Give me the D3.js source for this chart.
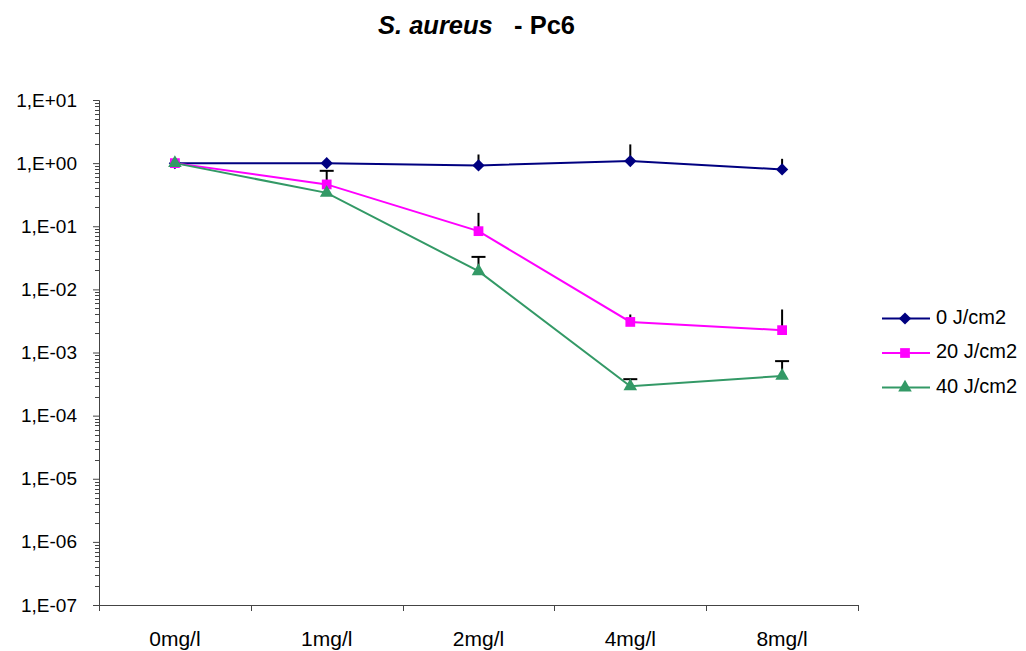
<!DOCTYPE html>
<meta charset="utf-8">
<head>
    <script src="https://d3js.org/d3.v7.min.js"></script>
    <style>
    body { margin: 0; background: #fff; }
    text { font-family: "Liberation Sans", Arial, sans-serif; }
    </style>
</head>
<body>
    <script>
    // categories and tick labels
    var doses = ["0mg/l", "1mg/l", "2mg/l", "4mg/l", "8mg/l"];
    var yTicks = [1e1, 1e0, 1e-1, 1e-2, 1e-3, 1e-4, 1e-5, 1e-6, 1e-7];
    var seriesNames = ["0 J/cm2", "20 J/cm2", "40 J/cm2"];

    // values
    var light0 = [1.0, 1.0, 0.92, 1.076, 0.795];
    var light20 = [1.0, 0.46, 0.0836, 0.00305, 0.00226];
    var light40 = [1.0, 0.338, 0.0194, 0.000292, 0.000426];

    // upper end of the error bars (null = none drawn)
    var err0 = [null, null, 1.37, 1.98, 1.17];
    var err20 = [null, 0.755, 0.163, 0.0040, 0.0048];
    var err40 = [null, null, 0.0327, 0.000378, 0.00073];

    // which error bars show a cap
    var cap0 = [false, false, false, false, false];
    var cap20 = [false, true, false, false, false];
    var cap40 = [false, false, true, true, true];

    var colors = ["#000080", "#ff00ff", "#339966"];
    // diamond = square turned 45 degrees
    var shapes = [d3.symbolSquare, d3.symbolSquare, d3.symbolTriangle];
    var turns = [45, 0, 0];
    var sizes = [75, 95, 80];

    var series = [
        { name: seriesNames[0], values: light0, err: err0, cap: cap0 },
        { name: seriesNames[1], values: light20, err: err20, cap: cap20 },
        { name: seriesNames[2], values: light40, err: err40, cap: cap40 }
    ];

    var W = 1026, H = 651;
    var plot = { left: 99, right: 858, top: 100, bottom: 605 };

    var svg = d3.select("body").append("svg")
        .attr("width", W)
        .attr("height", H);

    var x = d3.scaleBand()
        .domain(doses)
        .range([plot.left, plot.right]);
    var y = d3.scaleLog()
        .domain([1e-7, 1e1])
        .range([plot.bottom, plot.top]);

    // title
    var title = svg.append("text")
        .attr("x", 378)
        .attr("y", 34)
        .style("font-size", "25.5px")
        .style("font-weight", "bold");
    title.append("tspan").style("font-style", "italic").text("S. aureus");
    title.append("tspan").attr("xml:space", "preserve").text("   - Pc6");

    // minor log ticks
    var minor = [];
    for (var e = -7; e < 1; e++) {
        for (var m = 2; m <= 9; m++) minor.push(m * Math.pow(10, e));
    }
    svg.append("g").selectAll("line")
        .data(minor)
        .enter().append("line")
        .attr("x1", plot.left - 4)
        .attr("x2", plot.left)
        .attr("y1", function(d) { return Math.round(y(d)) + 0.5; })
        .attr("y2", function(d) { return Math.round(y(d)) + 0.5; })
        .attr("stroke", "#444")
        .attr("stroke-width", 1);

    // y axis
    var yAxis = d3.axisLeft(y)
        .tickValues(yTicks)
        .tickSize(6)
        .tickPadding(16)
        .tickFormat(function(d) {
            var exp = Math.round(Math.log10(d));
            var s = Math.abs(exp) < 10 ? "0" + Math.abs(exp) : "" + Math.abs(exp);
            return "1,E" + (exp < 0 ? "-" : "+") + s;
        });
    var gy = svg.append("g")
        .attr("transform", "translate(" + plot.left + ",0)")
        .call(yAxis);
    gy.select(".domain").attr("stroke", "#444");
    gy.selectAll(".tick line").attr("stroke", "#444");
    gy.selectAll("text")
        .style("font-size", "19px")
        .attr("fill", "#000");

    // x axis
    var xAxis = d3.axisBottom(x).tickSize(0).tickPadding(26);
    var gx = svg.append("g")
        .attr("transform", "translate(0," + plot.bottom + ")")
        .call(xAxis);
    gx.select(".domain").attr("stroke", "#444");
    gx.selectAll("text")
        .style("font-size", "21px")
        .attr("fill", "#000");
    // category separator ticks
    var edges = doses.map(function(d) { return x(d); }).concat([plot.right]);
    gx.selectAll(".sep")
        .data(edges)
        .enter().append("line")
        .attr("class", "sep")
        .attr("x1", function(d) { return Math.round(d) + 0.5; })
        .attr("x2", function(d) { return Math.round(d) + 0.5; })
        .attr("y1", 0)
        .attr("y2", 6)
        .attr("stroke", "#444");

    var cx = function(i) { return x(doses[i]) + x.bandwidth() / 2; };

    var line = d3.line()
        .x(function(d, i) { return cx(i); })
        .y(function(d) { return y(d); });

    // error bars
    series.forEach(function(s) {
        var g = svg.append("g");
        s.values.forEach(function(v, i) {
            if (s.err[i] == null) return;
            g.append("line")
                .attr("x1", cx(i)).attr("x2", cx(i))
                .attr("y1", y(v)).attr("y2", y(s.err[i]))
                .attr("stroke", "#000")
                .attr("stroke-width", 2);
            if (s.cap[i]) {
                g.append("line")
                    .attr("x1", cx(i) - 7).attr("x2", cx(i) + 7)
                    .attr("y1", y(s.err[i])).attr("y2", y(s.err[i]))
                    .attr("stroke", "#000")
                    .attr("stroke-width", 2);
            }
        });
    });

    // lines and markers
    series.forEach(function(s, k) {
        svg.append("path")
            .datum(s.values)
            .attr("d", line)
            .attr("fill", "none")
            .attr("stroke", colors[k])
            .attr("stroke-width", 2);
        svg.append("g").selectAll("path")
            .data(s.values)
            .enter().append("path")
            .attr("transform", function(d, i) {
                return "translate(" + cx(i) + "," + y(d) + ") rotate(" + turns[k] + ")";
            })
            .attr("d", d3.symbol().type(shapes[k]).size(sizes[k]))
            .attr("fill", colors[k]);
    });

    // legend
    var legend = svg.append("g");
    series.forEach(function(s, k) {
        var ly = 318.5 + k * 34.5;
        legend.append("line")
            .attr("x1", 882).attr("x2", 930)
            .attr("y1", ly).attr("y2", ly)
            .attr("stroke", colors[k])
            .attr("stroke-width", 2);
        legend.append("path")
            .attr("transform", "translate(905," + ly + ") rotate(" + turns[k] + ")")
            .attr("d", d3.symbol().type(shapes[k]).size(sizes[k]))
            .attr("fill", colors[k]);
        legend.append("text")
            .attr("x", 936)
            .attr("y", ly + 5)
            .style("font-size", "20px")
            .text(s.name);
    });
    </script>
</body>
</html>
